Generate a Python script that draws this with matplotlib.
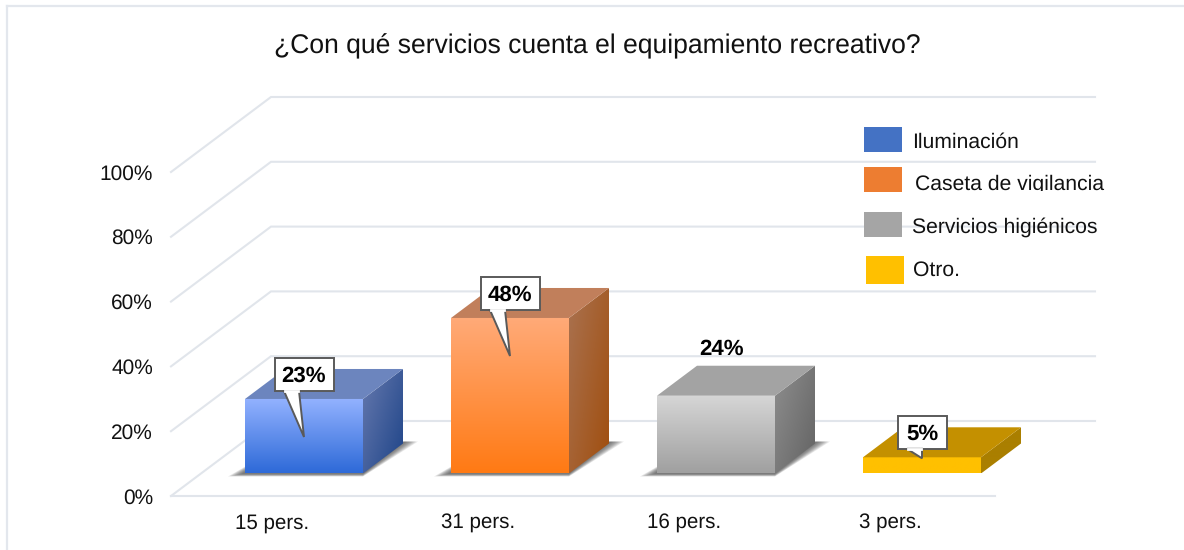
import numpy as np
import matplotlib
matplotlib.use("Agg")
import matplotlib.pyplot as plt
from matplotlib.patches import Polygon, Rectangle
from matplotlib.colors import to_rgb

plt.rcParams['font.family'] = ['Liberation Sans', 'DejaVu Sans']
plt.rcParams['text.hinting'] = 'none'
plt.rcParams['text.hinting_factor'] = 8

# ---------- data ----------
title = "¿Con qué servicios cuenta el equipamiento recreativo?"
categories = ["15 pers.", "31 pers.", "16 pers.", "3 pers."]
series_names = ["Iluminación", "Caseta de vigilancia", "Servicios higiénicos", "Otro."]
values = [23, 48, 24, 5]
value_labels = ["23%", "48%", "24%", "5%"]
y_ticks = [0, 20, 40, 60, 80, 100]
y_tick_labels = ["0%", "20%", "40%", "60%", "80%", "100%"]

# ---------- styles ----------
W, H = 1184, 550
SX, SY = 206.0, 3.24          # px per category, px per percent
X0, Y0 = 274.0, 496.0         # px of category 0 / 0% on the front plane
DX, DY = 100.0, 75.0          # px shift of the whole depth of the floor
BAR_W = 118.0 / SX
D0, D1 = 0.30, 0.70
GRID = "#E1E5EB"
FS_AXIS = 15.0
FS_LEG = 15.2
FS_CAT = 14.8
FS_VAL = 16.0
front_cols = [("#93B2FF", "#2E6AD8"), ("#FFAA78", "#FF7A14"), ("#D6D6D6", "#A0A0A0"), ("#FFC000", "#FFC000")]
top_cols = ["#6C85BE", "#C17F5B", "#A3A3A3", "#C49000"]
side_cols = [("#6679AE", "#1E4488"), ("#AA7250", "#A04E0E"), ("#8E8E8E", "#636363"), ("#AA7F00", "#AA7F00")]
legend_cols = ["#4472C4", "#ED7D31", "#A5A5A5", "#FFC000"]

fig = plt.figure(figsize=(W / 100, H / 100), dpi=100, facecolor="white")
ax = fig.add_axes([0, 0, 1, 1])
ax.set_xlim(-X0 / SX, (W - X0) / SX)
ax.set_ylim((Y0 - H) / SY, Y0 / SY)
ax.axis("off")
XL, YL = ax.get_xlim(), ax.get_ylim()


def P(x, y, d=0.0):
    """category / percent / floor depth -> axes data coordinates"""
    return (x + d * DX / SX, y + d * DY / SY)


def gx(px):   # pixel offset to category units
    return px / SX


def gy(px):   # pixel offset (downwards) to percent units
    return -px / SY


def gradient_poly(pts, c1, c2, angle, z):
    pts = np.array(pts)
    x0, x1 = pts[:, 0].min(), pts[:, 0].max()
    y0, y1 = pts[:, 1].min(), pts[:, 1].max()
    u, v = np.meshgrid(np.linspace(0, 1, 80), np.linspace(0, 1, 80))
    t = (u * np.sin(angle) + v * np.cos(angle)) / (np.sin(angle) + np.cos(angle))
    c1, c2 = np.array(to_rgb(c1)), np.array(to_rgb(c2))
    img = c1 + (c2 - c1) * t[..., None]
    im = ax.imshow(img, extent=(x0, x1, y0, y1), origin="upper", aspect="auto",
                   zorder=z, interpolation="bilinear")
    poly = Polygon(pts, closed=True, transform=ax.transData, facecolor="none", edgecolor="none")
    ax.add_patch(poly)
    im.set_clip_path(poly)


# ---------- frame ----------
for xs, ys in [((7, 7), (6, 550)), ((7, 1184), (6, 6))]:
    ax.plot([XL[0] + gx(v) for v in xs], [YL[1] + gy(v) for v in ys], color="#E3E7ED", lw=1.6, zorder=1)

# ---------- grid ----------
xmax = len(categories) - 1 + 0.5
for t, lab in zip(y_ticks, y_tick_labels):
    a = P(-0.5, t, 0)
    b = P(-0.5, t, 1)
    c = P(xmax, t, 1)
    ax.plot([a[0], b[0], c[0]], [a[1], b[1], c[1]], color=GRID, lw=1.5, zorder=2, solid_joinstyle="miter")
    ax.text(a[0] - gx(18), t + gy(2), lab, ha="right", va="center", fontsize=FS_AXIS, color="#111111", zorder=8)
f0, f1 = P(-0.5, 0, 0), P(xmax, 0, 0)
ax.plot([f0[0], f1[0]], [0, 0], color=GRID, lw=1.5, zorder=2)

# ---------- bars ----------
for i, (v, cat, lab) in enumerate(zip(values, categories, value_labels)):
    l, r = i - BAR_W / 2, i + BAR_W / 2
    if v > 10:
        for grow in np.linspace(1.0, 0.2, 9):
            s = [(P(l, 0, D0)[0] - gx(17 * grow), P(l, 0, D0)[1] + gy(3 * grow)),
                 (P(r, 0, D0)[0], P(r, 0, D0)[1] + gy(3 * grow)),
                 (P(r, 0, D1)[0] + gx(15 * grow), P(r, 0, D1)[1] + gy(-2)),
                 (P(l, 0, D1)[0], P(l, 0, D1)[1])]
            ax.add_patch(Polygon(s, closed=True, facecolor="#3A3A3A", edgecolor="none", alpha=0.11, zorder=3))
    # faces
    gradient_poly([P(l, 0, D0), P(r, 0, D0), P(r, v, D0), P(l, v, D0)], *front_cols[i], 0.0, 5)
    gradient_poly([P(r, 0, D0), P(r, 0, D1), P(r, v, D1), P(r, v, D0)], *side_cols[i], 0.9, 5)
    ax.add_patch(Polygon([P(l, v, D0), P(r, v, D0), P(r, v, D1), P(l, v, D1)], closed=True,
                         facecolor=top_cols[i], edgecolor="none", zorder=5))
    # category label
    ax.text(i - gx(2), gy(27), cat, ha="center", va="center", fontsize=FS_CAT, color="#111111", zorder=8)

    # value labels
    top = P(i, v, D0)
    if i == 2:
        ax.text(top[0] + gx(5), top[1] + gy(-47), lab, ha="center", va="center",
                fontsize=FS_VAL, fontweight="bold", color="black", zorder=9)
        continue
    if i == 3:
        bw, bh = 24.5, 33
        tip = (top[0], top[1] + gy(1))
        cy = top[1] + gy(-25)
        tail = [(tip[0] - gx(15), cy + gy(bh / 2)), tip, (tip[0], cy + gy(bh / 2))]
    else:
        bw, bh = 29.5, 33
        tip = (top[0], top[1] + gy(38))
        cy = tip[1] + gy(-62.5)
        tail = [(tip[0] - gx(20), cy + gy(bh / 2)), tip, (tip[0] - gx(5), cy + gy(bh / 2))]
    box = Rectangle((tip[0] - gx(bw), cy + gy(bh / 2)), 2 * gx(bw), abs(gy(bh)),
                    facecolor="white", edgecolor="#5A5A5A", lw=1.4, zorder=6)
    ax.add_patch(box)
    ax.add_patch(Polygon(tail, closed=True, facecolor="white", edgecolor="#5A5A5A", lw=1.4,
                         zorder=6, joinstyle="miter"))
    # cover the seam between pointer and box
    ax.plot([tail[0][0] + gx(1.2), tail[2][0] - gx(1.2)], [tail[0][1], tail[2][1]], color="white", lw=2, zorder=7)
    ax.text(tip[0], cy + gy(2), lab, ha="center", va="center", fontsize=FS_VAL, fontweight="bold",
            color="black", zorder=9)

# ---------- title ----------
ax.text(XL[0] + gx(597.5), YL[1] + gy(46), title, ha="center", va="center",
        fontsize=19.1, color="#111111", zorder=8)

# ---------- legend ----------
swatches = [(864, 127, 38, 25), (864, 167, 38, 25), (864, 212, 38, 25), (866, 256, 38, 28)]
text_pos = [(912, 142.5), (915, 184), (912, 227), (913, 270)]
for name, col, (sx, sy, sw, sh), (tx, ty) in zip(series_names, legend_cols, swatches, text_pos):
    ax.add_patch(Rectangle((XL[0] + gx(sx), YL[1] + gy(sy + sh)), gx(sw), abs(gy(sh)),
                           facecolor=col, edgecolor="none", zorder=8))
    t = ax.text(XL[0] + gx(tx), YL[1] + gy(ty), name, ha="left", va="center",
                fontsize=FS_LEG, color="#111111", zorder=8)
    if name.startswith("Caseta"):
        clip = Rectangle((XL[0] + gx(900), YL[1] + gy(191)), gx(230), abs(gy(30)),
                         transform=ax.transData, facecolor="none", edgecolor="none")
        t.set_clip_path(clip)
        t.set_clip_on(True)

ax.set_xlim(XL)
ax.set_ylim(YL)
fig.savefig("out.png", dpi=100)
